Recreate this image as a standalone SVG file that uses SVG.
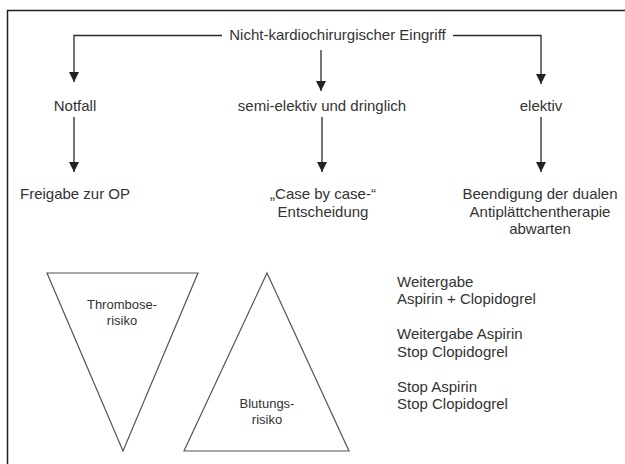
<svg xmlns="http://www.w3.org/2000/svg" width="625" height="464" viewBox="0 0 625 464">
<style>
text{font-family:"Liberation Sans",Arial,sans-serif;font-size:15px;fill:#333;}
.c{text-anchor:middle;}
.s{font-size:13px;}
.ln{stroke:#2a2a2a;stroke-width:1.3;fill:none;}
.tri{stroke:#555;stroke-width:1.2;fill:none;}
</style>
<defs>
<marker id="ah" markerUnits="userSpaceOnUse" markerWidth="11" markerHeight="11" refX="10" refY="5" orient="auto">
<path d="M0,0 L10,5 L0,10 z" fill="#222"/>
</marker>
</defs>
<rect x="7.5" y="10.5" width="640" height="470" fill="#fff" stroke="#222" stroke-width="1.5"/>
<g id="connectors">
<polyline class="ln" points="222,35.5 74,35.5 74,82" marker-end="url(#ah)"/>
<polyline class="ln" points="453,35.5 541,35.5 541,84" marker-end="url(#ah)"/>
<line class="ln" x1="321" y1="50" x2="321" y2="91" marker-end="url(#ah)"/>
<line class="ln" x1="74" y1="117" x2="74" y2="172" marker-end="url(#ah)"/>
<line class="ln" x1="322" y1="117" x2="322" y2="172" marker-end="url(#ah)"/>
<line class="ln" x1="541" y1="117" x2="541" y2="172" marker-end="url(#ah)"/>
</g>
<g id="root"><text class="c" x="337.5" y="40">Nicht-kardiochirurgischer Eingriff</text></g>
<g id="notfall"><text class="c" x="75" y="111">Notfall</text></g>
<g id="semi"><text class="c" x="322" y="111">semi-elektiv und dringlich</text></g>
<g id="elektiv"><text class="c" x="541" y="111">elektiv</text></g>
<g id="freigabe"><text class="c" x="75" y="199">Freigabe zur OP</text></g>
<g id="case"><text class="c" x="323" y="199">„Case by case-“</text><text class="c" x="323" y="217">Entscheidung</text></g>
<g id="beendigung"><text class="c" x="540" y="199">Beendigung der dualen</text><text class="c" x="540" y="217">Antiplättchentherapie</text><text class="c" x="540" y="234">abwarten</text></g>
<g id="thrombose">
<polygon class="tri" points="47,273 198,273 123,451"/>
<text class="c s" x="122" y="309">Thrombose-</text><text class="c s" x="122" y="325">risiko</text>
</g>
<g id="blutung">
<polygon class="tri" points="267,273 349,451 184,451"/>
<text class="c s" x="267" y="408">Blutungs-</text><text class="c s" x="267" y="424">risiko</text>
</g>
<g id="massnahmen">
<text x="397" y="287">Weitergabe</text><text x="397" y="304">Aspirin + Clopidogrel</text>
<text x="397" y="339">Weitergabe Aspirin</text><text x="397" y="357">Stop Clopidogrel</text>
<text x="397" y="392">Stop Aspirin</text><text x="397" y="409">Stop Clopidogrel</text>
</g>
</svg>
